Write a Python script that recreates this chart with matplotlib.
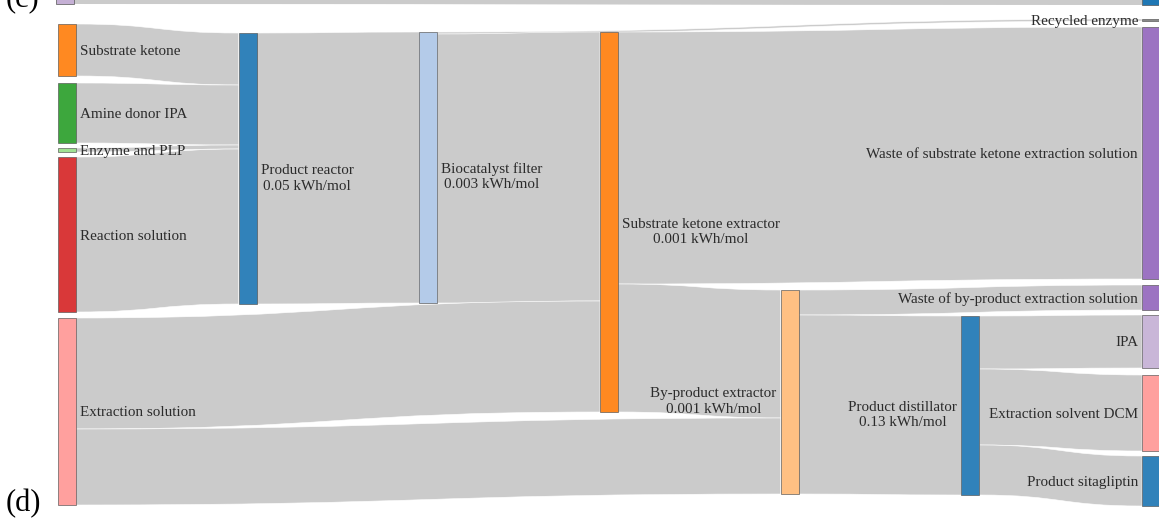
import matplotlib.pyplot as plt
from matplotlib.path import Path
from matplotlib.patches import PathPatch, Rectangle

plt.rcParams['font.family'] = ['Liberation Serif', 'DejaVu Serif']

# flows of the sitagliptin process (arbitrary flow units)
link_src = ["Substrate ketone", "Amine donor IPA", "Enzyme and PLP", "Reaction solution",
            "Product reactor", "Biocatalyst filter", "Biocatalyst filter",
            "Extraction solution", "Extraction solution",
            "Substrate ketone extractor", "Substrate ketone extractor",
            "By-product extractor", "By-product extractor",
            "Product distillator", "Product distillator", "Product distillator"]
link_tgt = ["Product reactor", "Product reactor", "Product reactor", "Product reactor",
            "Biocatalyst filter", "Recycled enzyme", "Substrate ketone extractor",
            "Substrate ketone extractor", "By-product extractor",
            "Waste of substrate ketone extraction solution", "By-product extractor",
            "Waste of by-product extraction solution", "Product distillator",
            "IPA", "Extraction solvent DCM", "Product sitagliptin"]
link_val = [52, 60, 4, 155, 271, 2, 269, 111, 76, 252, 128, 25, 179, 53, 76, 50]

energy = {"Product reactor": "0.05 kWh/mol",
          "Biocatalyst filter": "0.003 kWh/mol",
          "Substrate ketone extractor": "0.001 kWh/mol",
          "By-product extractor": "0.001 kWh/mol",
          "Product distillator": "0.13 kWh/mol"}

# layout: column, top edge (px) and colour of each node
node_col = {"Substrate ketone": 0, "Amine donor IPA": 0, "Enzyme and PLP": 0,
            "Reaction solution": 0, "Extraction solution": 0,
            "Product reactor": 1, "Biocatalyst filter": 2,
            "Substrate ketone extractor": 3, "By-product extractor": 4,
            "Product distillator": 5,
            "Recycled enzyme": 6, "Waste of substrate ketone extraction solution": 6,
            "Waste of by-product extraction solution": 6, "IPA": 6,
            "Extraction solvent DCM": 6, "Product sitagliptin": 6}
node_top = {"Substrate ketone": 24, "Amine donor IPA": 83, "Enzyme and PLP": 148,
            "Reaction solution": 157, "Extraction solution": 318,
            "Product reactor": 33, "Biocatalyst filter": 32,
            "Substrate ketone extractor": 32, "By-product extractor": 290,
            "Product distillator": 316,
            "Recycled enzyme": 19, "Waste of substrate ketone extraction solution": 27,
            "Waste of by-product extraction solution": 285, "IPA": 315,
            "Extraction solvent DCM": 375, "Product sitagliptin": 456}
node_color = {"Substrate ketone": "#ff7f0e", "Amine donor IPA": "#2ca02c",
              "Enzyme and PLP": "#98df8a", "Reaction solution": "#d62728",
              "Extraction solution": "#ff9896", "Product reactor": "#1f77b4",
              "Biocatalyst filter": "#aec7e8", "Substrate ketone extractor": "#ff7f0e",
              "By-product extractor": "#ffbb78", "Product distillator": "#1f77b4",
              "Recycled enzyme": "#7f7f7f",
              "Waste of substrate ketone extraction solution": "#9467bd",
              "Waste of by-product extraction solution": "#9467bd", "IPA": "#c5b0d5",
              "Extraction solvent DCM": "#ff9896", "Product sitagliptin": "#1f77b4"}
left_labels = ["By-product extractor", "Product distillator"]

W, H = 1159, 521
x0, dx, nw = 58, 180.67, 18
fs = 10.9
line_gap = 16

fig = plt.figure(figsize=(W / 100, H / 100), dpi=100)
ax = fig.add_axes([0, 0, 1, 1])
ax.set_xlim(0, W)
ax.set_ylim(H, 0)
ax.axis('off')


def band(xs, ys0, ys1, xt, yt0, yt1, **kw):
    xm = (xs + xt) / 2
    verts = [(xs, ys0), (xm, ys0), (xm, yt0), (xt, yt0),
             (xt, yt1), (xm, yt1), (xm, ys1), (xs, ys1), (xs, ys0)]
    codes = [Path.MOVETO, Path.CURVE4, Path.CURVE4, Path.CURVE4,
             Path.LINETO, Path.CURVE4, Path.CURVE4, Path.CURVE4, Path.CLOSEPOLY]
    ax.add_patch(PathPatch(Path(verts, codes), **kw))


# node sizes
height = {}
for n in node_col:
    vin = sum(v for s, t, v in zip(link_src, link_tgt, link_val) if t == n)
    vout = sum(v for s, t, v in zip(link_src, link_tgt, link_val) if s == n)
    height[n] = max(vin, vout)

xpos = {n: x0 + c * dx for n, c in node_col.items()}

# links: stacked at the source by target position, at the target by source position
out_off = {n: 0 for n in node_col}
in_off = {n: 0 for n in node_col}
order = sorted(range(len(link_val)), key=lambda i: node_top[link_tgt[i]])
src_y = {}
for i in order:
    s = link_src[i]
    src_y[i] = node_top[s] + out_off[s]
    out_off[s] += link_val[i]
order = sorted(range(len(link_val)), key=lambda i: node_top[link_src[i]])
for i in order:
    s, t, v = link_src[i], link_tgt[i], link_val[i]
    ty = node_top[t] + in_off[t]
    in_off[t] += v
    band(xpos[s] + nw, src_y[i], src_y[i] + v, xpos[t], ty, ty + v,
         facecolor='#cbcbcb', edgecolor='white', lw=0.4, zorder=1)

# nodes and labels (first line of each label sits on the node centre)
for n in node_col:
    ax.add_patch(Rectangle((xpos[n], node_top[n]), nw, height[n], facecolor=node_color[n],
                           alpha=0.92, edgecolor='#555555', lw=0.5, zorder=2))
    text = n
    yc = node_top[n] + height[n] / 2 + 5
    if n in energy:
        text += "\n" + energy[n]
        yc += line_gap
    if node_col[n] == 6 or n in left_labels:
        ax.text(xpos[n] - 4, yc, text, ha='right', va='baseline', multialignment='center',
                fontsize=fs, linespacing=1.25, color='#2b2b2b', zorder=3)
    else:
        ax.text(xpos[n] + nw + 4, yc, text, ha='left', va='baseline', multialignment='center',
                fontsize=fs, linespacing=1.25, color='#2b2b2b', zorder=3)

# tail of the panel above
band(x0 - 2 + nw, -30, 4, x0 + 6 * dx, -30, 5, facecolor='#cbcbcb', edgecolor='none', zorder=1)
ax.add_patch(Rectangle((x0 - 2, -30), nw, 34, facecolor='#c5b0d5', edgecolor='#555555', lw=0.5, zorder=2))
ax.add_patch(Rectangle((x0 + 6 * dx, -30), nw, 35, facecolor='#1f77b4', edgecolor='#555555', lw=0.5, zorder=2))

ax.text(6, 6, "(c)", fontsize=22, ha='left', va='baseline', color='black')
ax.text(6, 511, "(d)", fontsize=22, ha='left', va='baseline', color='black')

fig.savefig("out.png", dpi=100)
